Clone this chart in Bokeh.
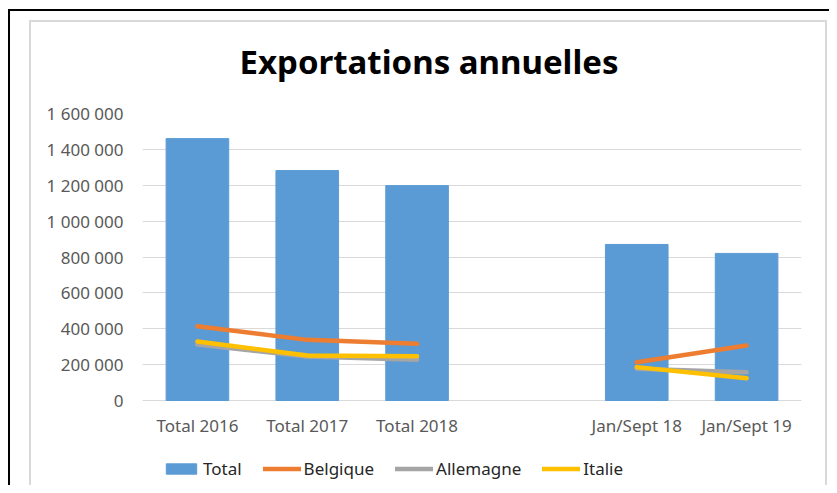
from bokeh.plotting import figure
from bokeh.models import (ColumnDataSource, FactorRange, Range1d, Legend, LegendItem,
                          Title, FixedTicker, CustomJSTickFormatter)
from bokeh.embed import file_html
from bokeh.resources import INLINE

NaN = float("nan")
categories = ["Total 2016", "Total 2017", "Total 2018", " ", "Jan/Sept 18", "Jan/Sept 19"]
total = [1460000, 1282000, 1198000, NaN, 870000, 820000]
belgique = [414000, 338000, 316000, NaN, 213000, 307000]
allemagne = [312000, 245000, 227000, NaN, 177000, 158000]
italie = [329000, 251000, 247000, NaN, 186000, 124000]
y_ticks = [0, 200000, 400000, 600000, 800000, 1000000, 1200000, 1400000, 1600000]
Y_MAX = 1600000

FONT = "Noto Sans"

# layout constants (pixels)
W, H = 829, 485
FRAME_TOP, FRAME_LEFT, FRAME_RIGHT_PAD = 113, 142, 28
ZERO_Y = 400                      # pixel row of the zero line
below_zero = H - ZERO_Y           # room under the zero line for labels + legend
y_start = -Y_MAX * below_zero / (ZERO_Y - FRAME_TOP)

src = ColumnDataSource(dict(x=categories, total=total, belgique=belgique,
                            allemagne=allemagne, italie=italie))

frame_css = ("linear-gradient(#000,#000) 8px 9px / 2px 100% no-repeat, "
             "linear-gradient(#000,#000) 8px 9px / 100% 2px no-repeat, "
             "linear-gradient(#D9D9D9,#D9D9D9) 29px 20px / 2px 100% no-repeat, "
             "linear-gradient(#D9D9D9,#D9D9D9) 29px 20px / 798px 2px no-repeat, "
             "linear-gradient(#D9D9D9,#D9D9D9) 825px 20px / 2px 100% no-repeat, white")

p = figure(width=W, height=H, output_backend="svg", toolbar_location=None,
           x_range=FactorRange(*categories, range_padding=0),
           y_range=Range1d(y_start, Y_MAX),
           min_border_left=FRAME_LEFT, min_border_right=FRAME_RIGHT_PAD,
           min_border_top=FRAME_TOP, min_border_bottom=0)
p.styles = {"background": frame_css}
p.outline_line_color = None
p.background_fill_color = "white"
p.border_fill_color = None

title = Title(text="Exportations annuelles", align="left", offset=97, text_font=FONT,
              text_font_size="33px", text_font_style="bold", text_color="black",
              standoff=60)
p.add_layout(title, "above")

bars = p.vbar(x="x", top="total", width=0.57, source=src, color="#5B9BD5")
lb = p.line(x="x", y="belgique", source=src, color="#ED7D31", line_width=4.5, line_cap="round")
la = p.line(x="x", y="allemagne", source=src, color="#A5A5A5", line_width=4.5, line_cap="round")
li = p.line(x="x", y="italie", source=src, color="#FFC000", line_width=4.5, line_cap="round")

p.yaxis.ticker = FixedTicker(ticks=y_ticks)
p.yaxis.formatter = CustomJSTickFormatter(code="""
return tick.toString().replace(/\\B(?=(\\d{3})+(?!\\d))/g, " ");
""")
p.xaxis.fixed_location = 0
for ax in (p.xaxis[0], p.yaxis[0]):
    ax.axis_line_color = None
    ax.major_tick_line_color = None
    ax.minor_tick_line_color = None
    ax.major_label_text_font = FONT
    ax.major_label_text_font_size = "17px"
    ax.major_label_text_color = "#595959"
p.yaxis.major_label_standoff = 13
p.xaxis.major_label_standoff = 7
p.xgrid.grid_line_color = None
p.ygrid.grid_line_color = "#D9D9D9"
p.ygrid.grid_line_width = 1.2
p.ygrid.ticker = FixedTicker(ticks=y_ticks)

legend = Legend(items=[LegendItem(label="Total", renderers=[bars]),
                       LegendItem(label="Belgique", renderers=[lb]),
                       LegendItem(label="Allemagne", renderers=[la]),
                       LegendItem(label="Italie", renderers=[li])],
                orientation="horizontal", location=(20, 5),
                label_text_font=FONT, label_text_font_size="17px",
                label_text_color="#262626", glyph_width=38, glyph_height=13,
                label_standoff=3, spacing=21, border_line_color=None,
                background_fill_alpha=0, padding=0, margin=0)
p.add_layout(legend)

open("out.html", "w").write(file_html(p, INLINE))
